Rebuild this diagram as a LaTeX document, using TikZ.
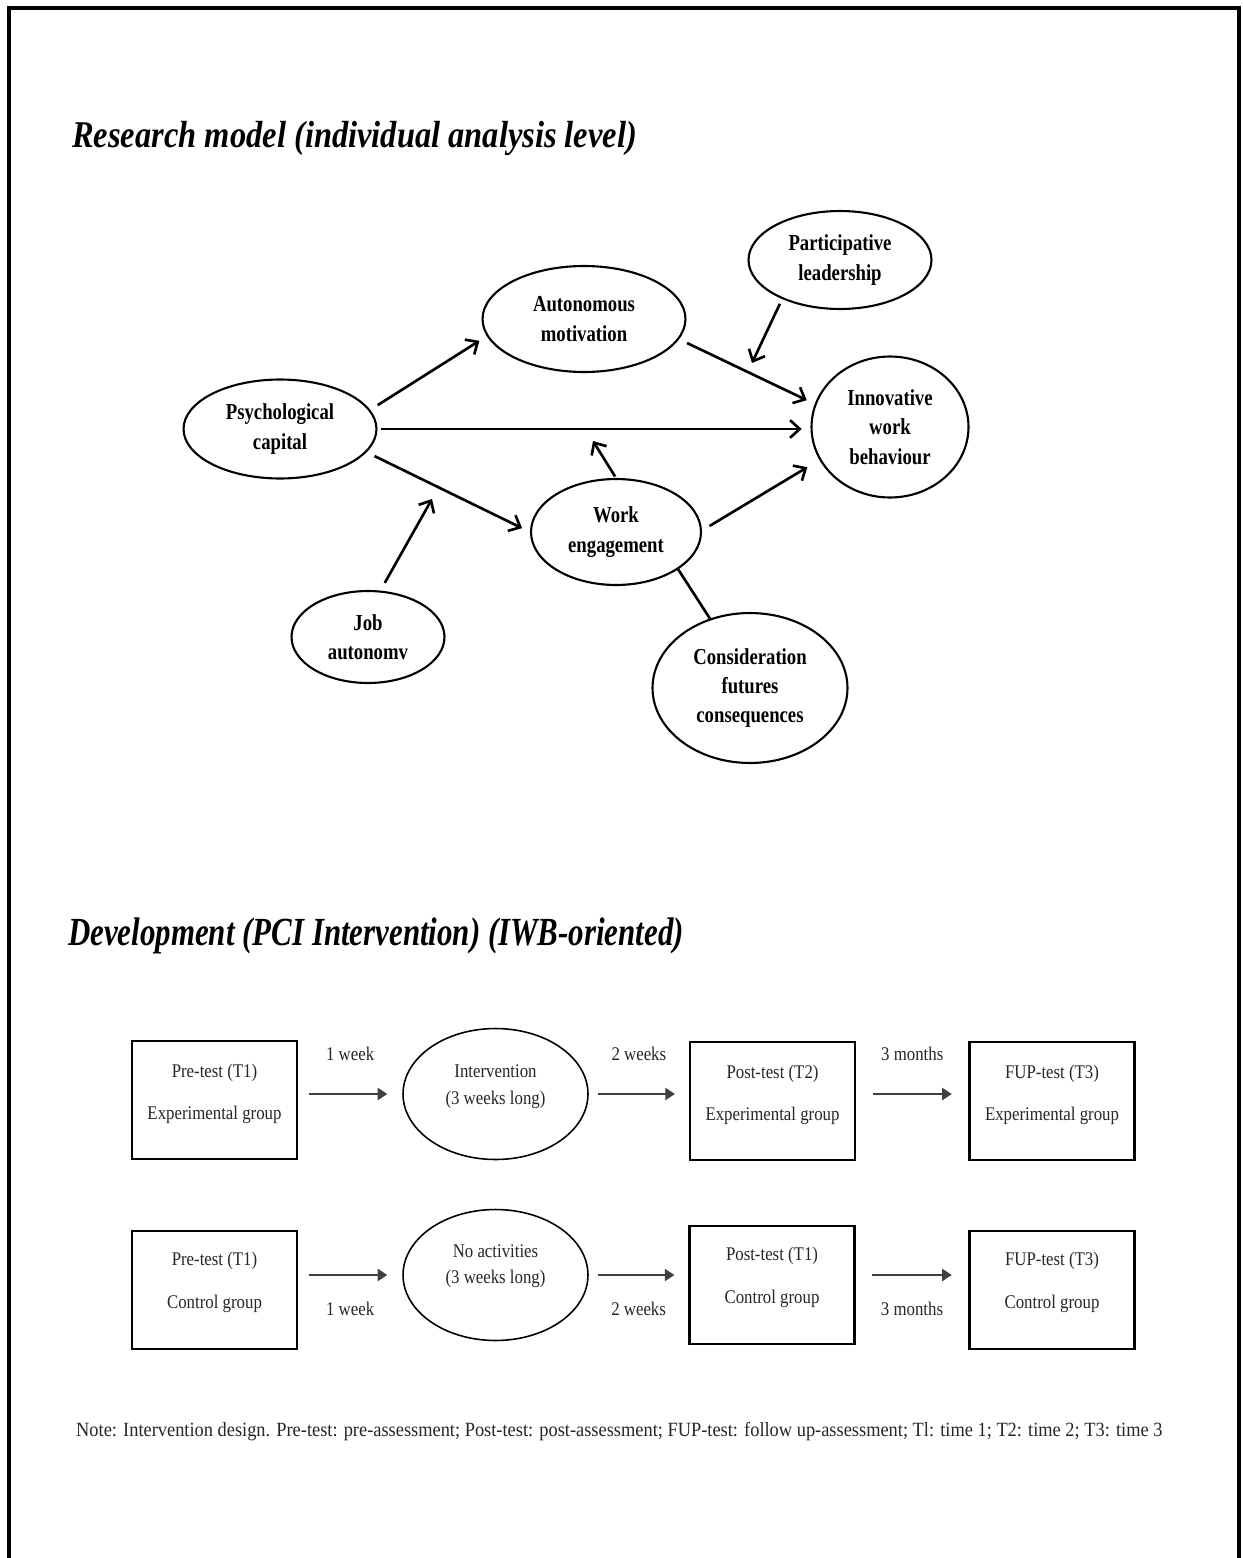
\documentclass[tikz,border=0pt]{standalone}
\usepackage{fontspec}
\setmainfont{Liberation Serif}
\newfontfamily\titlefont[FakeStretch=0.86]{Liberation Serif}
\newfontfamily\sectfont[FakeStretch=0.775]{Liberation Serif}
\newfontfamily\ovalfont[FakeStretch=0.82]{Liberation Serif}
\newfontfamily\plainfont[FakeStretch=0.87]{Liberation Serif}
\newfontfamily\notefont[FakeStretch=0.91]{Liberation Serif}
\usetikzlibrary{shapes.geometric,arrows.meta}

\tikzset{
  construct/.style={ellipse, draw, line width=1.2pt, inner sep=0pt, align=center,
    font=\ovalfont\bfseries\fontsize{13}{16.7}\selectfont},
  effect/.style={line width=1.5pt, -{Straight Barb[length=5.5pt,width=10pt]}, shorten <=5pt, shorten >=5pt},
  moderate/.style={effect, shorten >=0pt},
  phasebox/.style={ellipse, draw, line width=0.9pt, minimum width=3.7cm, minimum height=2.62cm},
  testbox/.style={draw, line width=1.2pt, minimum width=3.3cm, minimum height=2.36cm},
  plaintext/.style={align=center, text=black!85, font=\plainfont\fontsize{11}{15.3}\selectfont},
  lapse/.style={line width=0.8pt, draw=black!75, -{Triangle[length=5.5pt,width=7pt]}, shorten <=6pt, shorten >=8.5pt},
}

\begin{document}
\begin{tikzpicture}[x=0.02cm, y=-0.02cm]
\useasboundingbox (0,0) rectangle (1243,1558);
\draw[line width=1.8pt] (9,1558) -- (9,8) -- (1239,8) -- (1239,1558);

% research model
\node[anchor=base west, font=\titlefont\bfseries\itshape\fontsize{21.5}{26}\selectfont] (title) at (66,148) {Research model (individual analysis level)};

\node[construct, minimum width=3.86cm, minimum height=1.98cm] (psy) at (280,429) {Psychological\\capital};
\node[construct, minimum width=4.06cm, minimum height=2.12cm] (aut) at (584,319) {Autonomous\\motivation};
\node[construct, minimum width=3.66cm, minimum height=1.96cm] (pl) at (840,260) {Participative\\leadership};
\node[construct, minimum width=3.14cm, minimum height=2.82cm] (iwb) at (890,427) {Innovative\\work\\behaviour};
\node[construct, minimum width=3.4cm, minimum height=2.12cm] (we) at (616,532) {Work\\engagement};
\node[construct, minimum width=3.06cm, minimum height=1.84cm] (job) at (368,637) {Job\\autonomv};
\node[construct, minimum width=3.9cm, minimum height=3cm] (cfc) at (750,688) {Consideration\\futures\\consequences};

\coordinate (onam) at (752,363);
\coordinate (ondirect) at (593,441);
\coordinate (onpath) at (432,499);

\draw[effect] (psy.12) -- (aut.190);
\draw[effect] (aut.348) -- (iwb.163);
\draw[effect, shorten <=2pt] (psy.east) -- (psy.east -| iwb.west);
\draw[effect] (psy.345) -- (we.180);
\draw[effect, shorten >=8pt] (we.1) -- (iwb.205);
\draw[moderate, shorten <=3pt] (pl.214) -- (onam);
\draw[moderate, shorten <=1pt] (we.north) -- (ondirect);
\draw[moderate] (job.75) -- (onpath);
\draw[line width=1.5pt] (we.329) -- (cfc.120);

% intervention design
\node[anchor=base west, font=\sectfont\bfseries\itshape\fontsize{22.7}{27}\selectfont] (title2) at (62,945) {Development (PCI Intervention) (IWB-oriented)};

\node[testbox, label={[plaintext,yshift=3.5pt]center:{Pre-test (T1)\\[9pt]Experimental group}}] (pre1) at (214.5,1100) {};
\node[phasebox, label={[plaintext,yshift=4.2pt]center:{Intervention\\(3 weeks long)}}] (int) at (495.5,1094) {};
\node[testbox, label={[plaintext,yshift=3.5pt]center:{Post-test (T2)\\[9pt]Experimental group}}] (post1) at (772.5,1101) {};
\node[testbox, label={[plaintext,yshift=3.5pt]center:{FUP-test (T3)\\[9pt]Experimental group}}] (fup1) at (1052,1101) {};

\node[testbox, label={[plaintext,yshift=4.5pt]center:{Pre-test (T1)\\[9pt]Control group}}] (pre2) at (214.5,1290) {};
\node[phasebox, label={[plaintext,yshift=5pt]center:{No activities\\(3 weeks long)}}] (noact) at (495.5,1275) {};
\node[testbox, label={[plaintext,yshift=4.5pt]center:{Post-test (T1)\\[9pt]Control group}}] (post2) at (772,1285) {};
\node[testbox, label={[plaintext,yshift=4.5pt]center:{FUP-test (T3)\\[9pt]Control group}}] (fup2) at (1052,1290) {};

\draw[lapse] (pre1.east |- int) -- (int.west) node[midway, plaintext, yshift=23pt] {1 week};
\draw[lapse, shorten <=5pt, shorten >=8pt] (int.east) -- (int.east -| post1.west) node[midway, plaintext, yshift=23pt] {2 weeks};
\draw[lapse, shorten <=9.5pt, shorten >=9.5pt] (post1.east |- int) -- (int -| fup1.west) node[midway, plaintext, yshift=23pt] {3 months};

\draw[lapse] (pre2.east |- noact) -- (noact.west) node[midway, plaintext, yshift=-19pt] {1 week};
\draw[lapse, shorten <=5pt, shorten >=8pt] (noact.east) -- (noact.east -| post2.west) node[midway, plaintext, yshift=-19pt] {2 weeks};
\draw[lapse, shorten <=9.5pt, shorten >=9.5pt] (post2.east |- noact) -- (noact -| fup2.west) node[midway, plaintext, yshift=-19pt] {3 months};

\node[anchor=west, plaintext, font=\notefont\fontsize{11.5}{15}\selectfont] (note) at (70,1432) {Note: Intervention design. Pre-test: pre-assessment; Post-test: post-assessment; FUP-test: follow up-assessment; Tl: time 1; T2: time 2; T3: time 3};
\end{tikzpicture}
\end{document}
